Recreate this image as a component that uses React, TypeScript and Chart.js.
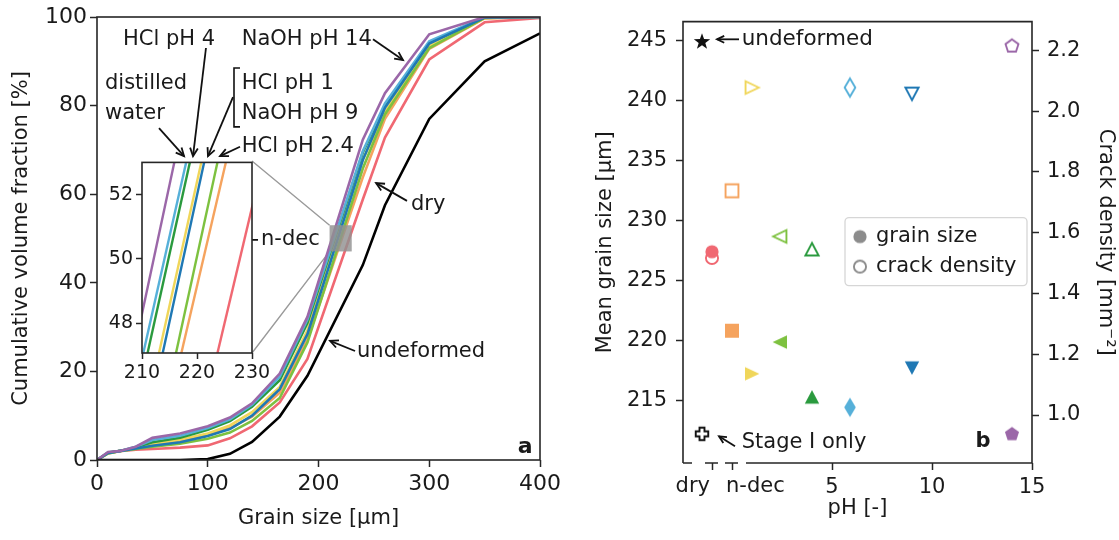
import React, { useEffect, useRef } from 'react';
import { Chart, registerables } from 'chart.js';

Chart.register(...registerables);

const FONT = '"DejaVu Sans", sans-serif';
Chart.defaults.font.family = FONT;
Chart.defaults.color = '#1a1a1a';

// ---------------- Panel a data ----------------
const grainSizes = [0, 10, 20, 35, 50, 75, 100, 120, 140, 165, 190, 240, 260, 300, 350, 400];
const cumDry = [0, 1.5, 2.0, 2.3, 2.5, 2.8, 3.3, 4.9, 7.6, 13.0, 22.8, 58.8, 72.8, 90.4, 98.8, 99.8];
const cumNdec = [0, 1.6, 2.0, 2.6, 3.4, 4.2, 5.6, 7.2, 9.8, 15.2, 27.2, 63.8, 77.0, 92.8, 99.7, 100];
const cumHCl1 = [0, 1.6, 2.0, 2.7, 3.6, 4.6, 6.0, 7.8, 10.8, 16.5, 29.3, 67.8, 78.5, 93.5, 99.8, 100];
const cumHCl24 = [0, 1.5, 2.0, 2.5, 3.0, 3.7, 4.8, 6.2, 8.8, 14.0, 26.5, 65.8, 78.0, 93.0, 99.8, 100];
const cumHCl4 = [0, 1.7, 2.0, 2.9, 4.0, 5.0, 6.8, 8.8, 12.0, 18.0, 30.9, 69.4, 80.0, 94.2, 99.9, 100];
const cumWater = [0, 1.7, 2.0, 3.0, 4.5, 5.5, 7.2, 9.2, 12.5, 18.8, 31.7, 69.7, 80.5, 94.5, 100, 100];
const cumNaOH9 = [0, 1.6, 2.0, 2.6, 3.2, 4.0, 5.4, 7.0, 10.0, 16.0, 28.4, 67.7, 79.5, 94.0, 99.9, 100];
const cumNaOH14 = [0, 1.8, 2.0, 3.0, 5.0, 6.0, 7.6, 9.6, 12.8, 19.5, 32.3, 72.3, 82.8, 96.1, 100, 100];
const cumUndeformed = [0, 0, 0, 0, 0, 0, 0.2, 1.4, 4.1, 9.8, 19.0, 44.0, 57.5, 77.0, 90.0, 96.3];

const sampleNames = ['dry', 'n-dec', 'HCl pH 1', 'HCl pH 2.4', 'HCl pH 4', 'distilled water', 'NaOH pH 9', 'NaOH pH 14'];
const sampleColors = ['#f06872', '#f5a35e', '#f0d65a', '#7dc13f', '#2a9a3e', '#56b0d9', '#1f78b4', '#9b67a8'];
const sampleCurves = [cumDry, cumNdec, cumHCl1, cumHCl24, cumHCl4, cumWater, cumNaOH9, cumNaOH14];

const mainXTicks = [0, 100, 200, 300, 400];
const mainYTicks = [0, 20, 40, 60, 80, 100];
const insetXRange = [210, 230];
const insetYRange = [47.08, 53];
const insetXTicks = [210, 220, 230];
const insetYTicks = [48, 50, 52];

// ---------------- Panel b data ----------------
const phValues = [-1, 0, 1, 2.4, 4, 5.9, 9, 14];
const meanGrainSize = [227.4, 220.8, 217.2, 219.85, 215.25, 214.4, 217.7, 212.2];
const crackDensity = [1.517, 1.738, 2.078, 1.588, 1.545, 2.078, 2.058, 2.216];
const sampleMarkers = ['circle', 'square', 'triRight', 'triLeft', 'triUp', 'thinDiamond', 'triDown', 'pentagon'];
const undeformedPH = -1.5;
const undeformedGrain = 245;
const stageIPH = -1.5;
const stageICrack = 0.938;
const phTickValues = [-1, 0, 5, 10, 15];
const phTickLabels = ['dry', 'n-dec', '5', '10', '15'];
const grainTicks = [215, 220, 225, 230, 235, 240, 245];
const crackTicks = [1.0, 1.2, 1.4, 1.6, 1.8, 2.0, 2.2];

// ---------------- layout constants ----------------
const INSET = { left: 142, top: 161, right: 252, bottom: 353 };
const INSET_CANVAS = { x: INSET.left - 64, y: INSET.top - 13, w: 200, h: 250 };
const PANEL_B = { x: 560, w: 559 };

const TXT = '#1a1a1a';
const AX = '#262626';

function font(size: number, bold = false) {
  return `${bold ? 'bold ' : ''}${size}px ${FONT}`;
}

function arrow(ctx: CanvasRenderingContext2D, x1: number, y1: number, x2: number, y2: number, head = 9) {
  ctx.beginPath();
  ctx.moveTo(x1, y1);
  ctx.lineTo(x2, y2);
  ctx.stroke();
  const a = Math.atan2(y2 - y1, x2 - x1);
  const sp = Math.PI / 7;
  ctx.beginPath();
  ctx.moveTo(x2 - head * Math.cos(a - sp), y2 - head * Math.sin(a - sp));
  ctx.lineTo(x2, y2);
  ctx.lineTo(x2 - head * Math.cos(a + sp), y2 - head * Math.sin(a + sp));
  ctx.stroke();
}

function makeMarker(shape: string, color: string, filled: boolean): HTMLCanvasElement {
  const S = 26;
  const c = document.createElement('canvas');
  c.width = S;
  c.height = S;
  const g = c.getContext('2d')!;
  g.translate(S / 2, S / 2);
  g.beginPath();
  const k = filled ? 1 : 0.92;
  const poly = (pts: number[][]) => {
    pts.forEach((p, i) => (i === 0 ? g.moveTo(p[0] * k, p[1] * k) : g.lineTo(p[0] * k, p[1] * k)));
  };
  switch (shape) {
    case 'circle':
      g.arc(0, 0, 6.6 * k, 0, Math.PI * 2);
      break;
    case 'square':
      poly([[-7, -7], [7, -7], [7, 7], [-7, 7]]);
      break;
    case 'triUp':
      poly([[0, -7], [7.2, 6.6], [-7.2, 6.6]]);
      break;
    case 'triDown':
      poly([[0, 7], [7.2, -6.6], [-7.2, -6.6]]);
      break;
    case 'triRight':
      poly([[7.4, 0], [-7, -6.8], [-7, 6.8]]);
      break;
    case 'triLeft':
      poly([[-7.4, 0], [7, -6.8], [7, 6.8]]);
      break;
    case 'thinDiamond':
      poly([[0, -9.8], [5.8, 0], [0, 9.8], [-5.8, 0]]);
      break;
    case 'pentagon': {
      const pts: number[][] = [];
      for (let i = 0; i < 5; i++) {
        const a = -Math.PI / 2 + (i * 2 * Math.PI) / 5;
        pts.push([7.4 * Math.cos(a), 7.4 * Math.sin(a) + 0.6]);
      }
      poly(pts);
      break;
    }
    case 'star': {
      const pts: number[][] = [];
      for (let i = 0; i < 10; i++) {
        const r = i % 2 === 0 ? 8.6 : 3.5;
        const a = -Math.PI / 2 + (i * Math.PI) / 5;
        pts.push([r * Math.cos(a), r * Math.sin(a) + 0.8]);
      }
      poly(pts);
      break;
    }
    case 'plus': {
      const a = 2.7, L = 6.8;
      poly([[-a, -L], [a, -L], [a, -a], [L, -a], [L, a], [a, a], [a, L], [-a, L], [-a, a], [-L, a], [-L, -a], [-a, -a]]);
      break;
    }
  }
  g.closePath();
  if (filled) {
    g.fillStyle = color;
    g.fill();
  } else {
    g.strokeStyle = color;
    g.lineWidth = 1.9;
    g.lineJoin = 'miter';
    g.stroke();
  }
  return c;
}

function boxPlugin(id: string) {
  return {
    id,
    afterDraw(chart: any) {
      const { ctx, chartArea: a } = chart;
      ctx.save();
      ctx.strokeStyle = AX;
      ctx.lineWidth = 1.6;
      ctx.strokeRect(a.left, a.top, a.right - a.left, a.bottom - a.top);
      ctx.restore();
    },
  };
}

function tickGrid(len = 7) {
  return { display: true, drawOnChartArea: false, drawTicks: true, tickLength: len, tickWidth: 1.5, tickColor: AX };
}

// panel a annotations (data coordinates)
const aTexts: [string, number, number][] = [
  ['HCl pH 4', 23.5, 94.8],
  ['NaOH pH 14', 130.7, 94.8],
  ['distilled', 7.2, 84.9],
  ['water', 7.2, 78.3],
  ['HCl pH 1', 130.7, 84.9],
  ['NaOH pH 9', 130.7, 78.3],
  ['HCl pH 2.4', 130.7, 70.7],
  ['n-dec', 148.1, 49.7],
  ['dry', 283.5, 57.6],
  ['undeformed', 234.8, 24.4],
];
const aArrows: number[][] = [
  [249.2, 95.0, 276.3, 90.3],
  [98.4, 93.0, 86.7, 68.6],
  [56.0, 74.9, 78.6, 68.6],
  [122.8, 81.9, 100.2, 68.6],
  [129.1, 70.7, 111.1, 68.6],
  [145.4, 49.7, 103.6, 49.7],
  [279.9, 58.5, 252.0, 62.5],
  [233.0, 24.6, 210.4, 26.9],
];
const aBracket = { x: 123.7, y1: 88.5, y2: 75.2 };

function curveData(ys: number[]) {
  return grainSizes.map((x, i) => ({ x, y: ys[i] }));
}

function curveDatasets(width: number) {
  const ds: any[] = sampleCurves.map((ys, i) => ({
    label: sampleNames[i],
    data: curveData(ys),
    borderColor: sampleColors[i],
    borderWidth: width,
    pointRadius: 0,
    tension: 0,
    fill: false,
  }));
  ds.push({
    label: 'undeformed',
    data: curveData(cumUndeformed),
    borderColor: '#000',
    borderWidth: width,
    pointRadius: 0,
    tension: 0,
    fill: false,
  });
  return ds.reverse();
}

function fixedTicks(values: number[]) {
  return (scale: any) => {
    scale.ticks = values.map((v) => ({ value: v }));
  };
}

export default function App() {
  const refA = useRef<HTMLCanvasElement>(null);
  const refInset = useRef<HTMLCanvasElement>(null);
  const refB = useRef<HTMLCanvasElement>(null);

  useEffect(() => {
    const charts: Chart[] = [];

    // ---------- Panel a main ----------
    const annotA = {
      id: 'annotA',
      beforeDatasetsDraw(chart: any) {
        const { ctx } = chart;
        const x = chart.scales.x, y = chart.scales.y;
        const rx = x.getPixelForValue(insetXRange[0]);
        const ryTop = y.getPixelForValue(insetYRange[1]);
        const ryBot = y.getPixelForValue(insetYRange[0]);
        ctx.save();
        ctx.strokeStyle = '#9a9a9a';
        ctx.lineWidth = 1.4;
        ctx.beginPath();
        ctx.moveTo(INSET.right, INSET.top);
        ctx.lineTo(rx, ryTop);
        ctx.moveTo(INSET.right, INSET.bottom);
        ctx.lineTo(rx, ryBot);
        ctx.stroke();
        ctx.restore();
      },
      afterDatasetsDraw(chart: any) {
        const { ctx } = chart;
        const x = chart.scales.x, y = chart.scales.y;
        const x0 = x.getPixelForValue(insetXRange[0]);
        const x1 = x.getPixelForValue(insetXRange[1]);
        const y0 = y.getPixelForValue(insetYRange[1]);
        const y1 = y.getPixelForValue(insetYRange[0]);
        ctx.save();
        ctx.fillStyle = 'rgba(145,145,145,0.82)';
        ctx.fillRect(x0, y0, x1 - x0, y1 - y0);
        ctx.restore();
      },
      afterDraw(chart: any) {
        const { ctx } = chart;
        const x = chart.scales.x, y = chart.scales.y;
        const px = (v: number) => x.getPixelForValue(v);
        const py = (v: number) => y.getPixelForValue(v);
        ctx.save();
        ctx.fillStyle = TXT;
        ctx.font = font(21);
        ctx.textBaseline = 'middle';
        ctx.textAlign = 'left';
        aTexts.forEach(([t, vx, vy]) => ctx.fillText(t, px(vx), py(vy)));
        ctx.strokeStyle = '#111';
        ctx.lineWidth = 1.8;
        aArrows.forEach(([a, b, c, d]) => arrow(ctx, px(a), py(b), px(c), py(d)));
        ctx.lineWidth = 1.6;
        ctx.beginPath();
        const bx = px(aBracket.x);
        ctx.moveTo(bx + 6, py(aBracket.y1));
        ctx.lineTo(bx, py(aBracket.y1));
        ctx.lineTo(bx, py(aBracket.y2));
        ctx.lineTo(bx + 6, py(aBracket.y2));
        ctx.stroke();
        ctx.font = font(22, true);
        ctx.textAlign = 'center';
        ctx.fillText('a', px(386.5), py(2.9));
        ctx.restore();
      },
    };

    charts.push(
      new Chart(refA.current!, {
        type: 'line',
        data: { datasets: curveDatasets(2.6) },
        options: {
          responsive: false,
          animation: false,
          events: [],
          layout: { padding: { left: 0, top: 17, right: 1119 - 540, bottom: 0 } },
          plugins: { legend: { display: false }, tooltip: { enabled: false } },
          scales: {
            x: {
              type: 'linear',
              min: 0,
              max: 400,
              afterBuildTicks: fixedTicks(mainXTicks),
              afterFit: (s: any) => { s.height = 540 - 460; },
              ticks: { font: { size: 22 }, padding: 4, maxRotation: 0, color: TXT },
              grid: tickGrid(7),
              border: { display: false },
              title: { display: true, text: 'Grain size [µm]', font: { size: 21 }, padding: { top: 0, bottom: 9 }, color: TXT },
            },
            y: {
              type: 'linear',
              min: 0,
              max: 100,
              afterBuildTicks: fixedTicks(mainYTicks),
              afterFit: (s: any) => { s.width = 97; },
              ticks: { font: { size: 22 }, padding: 3, color: TXT },
              grid: tickGrid(7),
              border: { display: false },
              title: { display: true, text: 'Cumulative volume fraction [%]', font: { size: 21 }, padding: { top: 9, bottom: 0 }, color: TXT },
            },
          },
        },
        plugins: [annotA, boxPlugin('boxA')],
      } as any)
    );

    // ---------- Panel a inset ----------
    const insetBg = {
      id: 'insetBg',
      beforeDraw(chart: any) {
        const { ctx, chartArea: a } = chart;
        ctx.save();
        ctx.fillStyle = '#fff';
        ctx.fillRect(a.left, a.top, a.right - a.left, a.bottom - a.top);
        ctx.restore();
      },
    };
    charts.push(
      new Chart(refInset.current!, {
        type: 'line',
        data: { datasets: curveDatasets(2.4) },
        options: {
          responsive: false,
          animation: false,
          events: [],
          layout: { padding: { left: 0, top: 13, right: 26, bottom: 0 } },
          plugins: { legend: { display: false }, tooltip: { enabled: false } },
          scales: {
            x: {
              type: 'linear',
              min: insetXRange[0],
              max: insetXRange[1],
              afterBuildTicks: fixedTicks(insetXTicks),
              afterFit: (s: any) => { s.height = 45; },
              ticks: { font: { size: 19 }, padding: 3, maxRotation: 0, color: TXT },
              grid: tickGrid(6),
              border: { display: false },
            },
            y: {
              type: 'linear',
              min: insetYRange[0],
              max: insetYRange[1],
              afterBuildTicks: fixedTicks(insetYTicks),
              afterFit: (s: any) => { s.width = 64; },
              ticks: { font: { size: 19 }, padding: 3, color: TXT },
              grid: tickGrid(6),
              border: { display: false },
            },
          },
        },
        plugins: [insetBg, boxPlugin('boxInset')],
      } as any)
    );

    // ---------- Panel b ----------
    const filledMarkers = sampleMarkers.map((m, i) => makeMarker(m, sampleColors[i], true));
    const openMarkers = sampleMarkers.map((m, i) => makeMarker(m, sampleColors[i], false));
    const starMarker = makeMarker('star', '#111', true);
    const plusMarker = makeMarker('plus', '#111', false);
    const legendFilled = makeMarker('circle', '#8c8c8c', true);
    const legendOpen = makeMarker('circle', '#8c8c8c', false);

    const annotB = {
      id: 'annotB',
      afterDraw(chart: any) {
        const { ctx, chartArea: a } = chart;
        const x = chart.scales.x, y = chart.scales.y;
        const px = (v: number) => x.getPixelForValue(v);
        const py = (v: number) => y.getPixelForValue(v);
        ctx.save();
        // frame: left, top, right solid, bottom broken near the categorical ticks
        ctx.strokeStyle = AX;
        ctx.lineWidth = 1.6;
        ctx.beginPath();
        ctx.moveTo(a.left, a.bottom); ctx.lineTo(a.left, a.top); ctx.lineTo(a.right, a.top); ctx.lineTo(a.right, a.bottom);
        const segs = [[-2.45, -2.0], [-1.35, -0.7], [-0.35, 0.3], [0.7, 15]];
        segs.forEach(([s, e]) => { ctx.moveTo(px(s), a.bottom); ctx.lineTo(px(e), a.bottom); });
        ctx.stroke();

        // categorical tick labels
        ctx.fillStyle = TXT;
        ctx.font = font(21);
        ctx.textBaseline = 'middle';
        const ly = a.bottom + 24;
        ctx.textAlign = 'right';
        ctx.fillText(phTickLabels[0], px(phTickValues[0]) - 2, ly);
        ctx.textAlign = 'left';
        ctx.fillText(phTickLabels[1], px(phTickValues[1]) - 6, ly);

        // annotations
        ctx.font = font(21.5);
        ctx.fillText('undeformed', px(0.485), py(245.14));
        ctx.font = font(21);
        ctx.fillText('Stage I only', px(0.485), py(211.48));
        ctx.strokeStyle = '#111';
        ctx.lineWidth = 1.8;
        arrow(ctx, px(0.35), py(245.14), px(-0.75), py(245.14), 8);
        arrow(ctx, px(0.15), py(211.15), px(-0.65), py(211.98), 8);
        ctx.font = font(21, true);
        ctx.textAlign = 'center';
        ctx.fillText('b', px(12.55), py(211.56));

        // legend
        const lw = 182, lh = 68;
        const lx = a.right - 5 - lw, ly0 = a.top + 196;
        ctx.beginPath();
        ctx.roundRect(lx, ly0, lw, lh, 4);
        ctx.fillStyle = 'rgba(255,255,255,0.85)';
        ctx.fill();
        ctx.strokeStyle = '#d6d6d6';
        ctx.lineWidth = 1.3;
        ctx.stroke();
        ctx.drawImage(legendFilled, lx + 15 - 13, ly0 + 19 - 13);
        ctx.drawImage(legendOpen, lx + 15 - 13, ly0 + 49 - 13);
        ctx.fillStyle = TXT;
        ctx.font = font(21);
        ctx.textAlign = 'left';
        ctx.fillText('grain size', lx + 31, ly0 + 19);
        ctx.fillText('crack density', lx + 31, ly0 + 49);
        ctx.restore();
      },
    };

    charts.push(
      new Chart(refB.current!, {
        type: 'scatter',
        data: {
          datasets: [
            {
              label: 'grain size',
              yAxisID: 'y',
              data: phValues.map((v, i) => ({ x: v, y: meanGrainSize[i] })),
              pointStyle: filledMarkers,
              pointRadius: 7,
            },
            {
              label: 'crack density',
              yAxisID: 'y2',
              data: phValues.map((v, i) => ({ x: v, y: crackDensity[i] })),
              pointStyle: openMarkers,
              pointRadius: 7,
            },
            {
              label: 'undeformed',
              yAxisID: 'y',
              data: [{ x: undeformedPH, y: undeformedGrain }],
              pointStyle: starMarker,
              pointRadius: 7,
            },
            {
              label: 'Stage I only',
              yAxisID: 'y2',
              data: [{ x: stageIPH, y: stageICrack }],
              pointStyle: plusMarker,
              pointRadius: 7,
            },
          ],
        },
        options: {
          responsive: false,
          animation: false,
          events: [],
          layout: { padding: { left: 0, top: 14, right: 0, bottom: 0 } },
          plugins: { legend: { display: false }, tooltip: { enabled: false } },
          scales: {
            x: {
              type: 'linear',
              min: -2.45,
              max: 15,
              afterBuildTicks: fixedTicks(phTickValues),
              afterFit: (s: any) => { s.height = 540 - 463; },
              ticks: {
                font: { size: 21 },
                padding: 5,
                maxRotation: 0,
                color: TXT,
                callback: (v: number) => {
                  const i = phTickValues.indexOf(v);
                  return i >= 2 ? phTickLabels[i] : '';
                },
              },
              grid: tickGrid(7),
              border: { display: false },
              title: { display: true, text: 'pH [-]', font: { size: 21 }, padding: { top: 0, bottom: 19 }, color: TXT },
            },
            y: {
              type: 'linear',
              position: 'left',
              min: 209.75,
              max: 246.62,
              afterBuildTicks: fixedTicks(grainTicks),
              afterFit: (s: any) => { s.width = 123; },
              ticks: { font: { size: 21 }, padding: 9, color: TXT },
              grid: tickGrid(7),
              border: { display: false },
              title: { display: true, text: 'Mean grain size [µm]', font: { size: 21 }, padding: { top: 33, bottom: 0 }, color: TXT },
            },
            y2: {
              type: 'linear',
              position: 'right',
              min: 0.842,
              max: 2.295,
              afterBuildTicks: fixedTicks(crackTicks),
              afterFit: (s: any) => { s.width = 87; },
              ticks: { font: { size: 21 }, padding: 8, color: TXT, callback: (v: number) => v.toFixed(1) },
              grid: tickGrid(7),
              border: { display: false },
              title: { display: true, text: 'Crack density [mm⁻²]', font: { size: 21 }, padding: { top: 1, bottom: 0 }, color: TXT },
            },
          },
        },
        plugins: [annotB],
      } as any)
    );

    return () => charts.forEach((c) => c.destroy());
  }, []);

  return (
    <div style={{ position: 'absolute', left: 0, top: 0, width: 1119, height: 540, background: '#fff', overflow: 'hidden' }}>
      <canvas ref={refA} width={1119} height={540} style={{ position: 'absolute', left: 0, top: 0, width: 1119, height: 540 }} />
      <canvas
        ref={refInset}
        width={INSET_CANVAS.w}
        height={INSET_CANVAS.h}
        style={{ position: 'absolute', left: INSET_CANVAS.x, top: INSET_CANVAS.y, width: INSET_CANVAS.w, height: INSET_CANVAS.h }}
      />
      <canvas
        ref={refB}
        width={PANEL_B.w}
        height={540}
        style={{ position: 'absolute', left: PANEL_B.x, top: 0, width: PANEL_B.w, height: 540 }}
      />
    </div>
  );
}
